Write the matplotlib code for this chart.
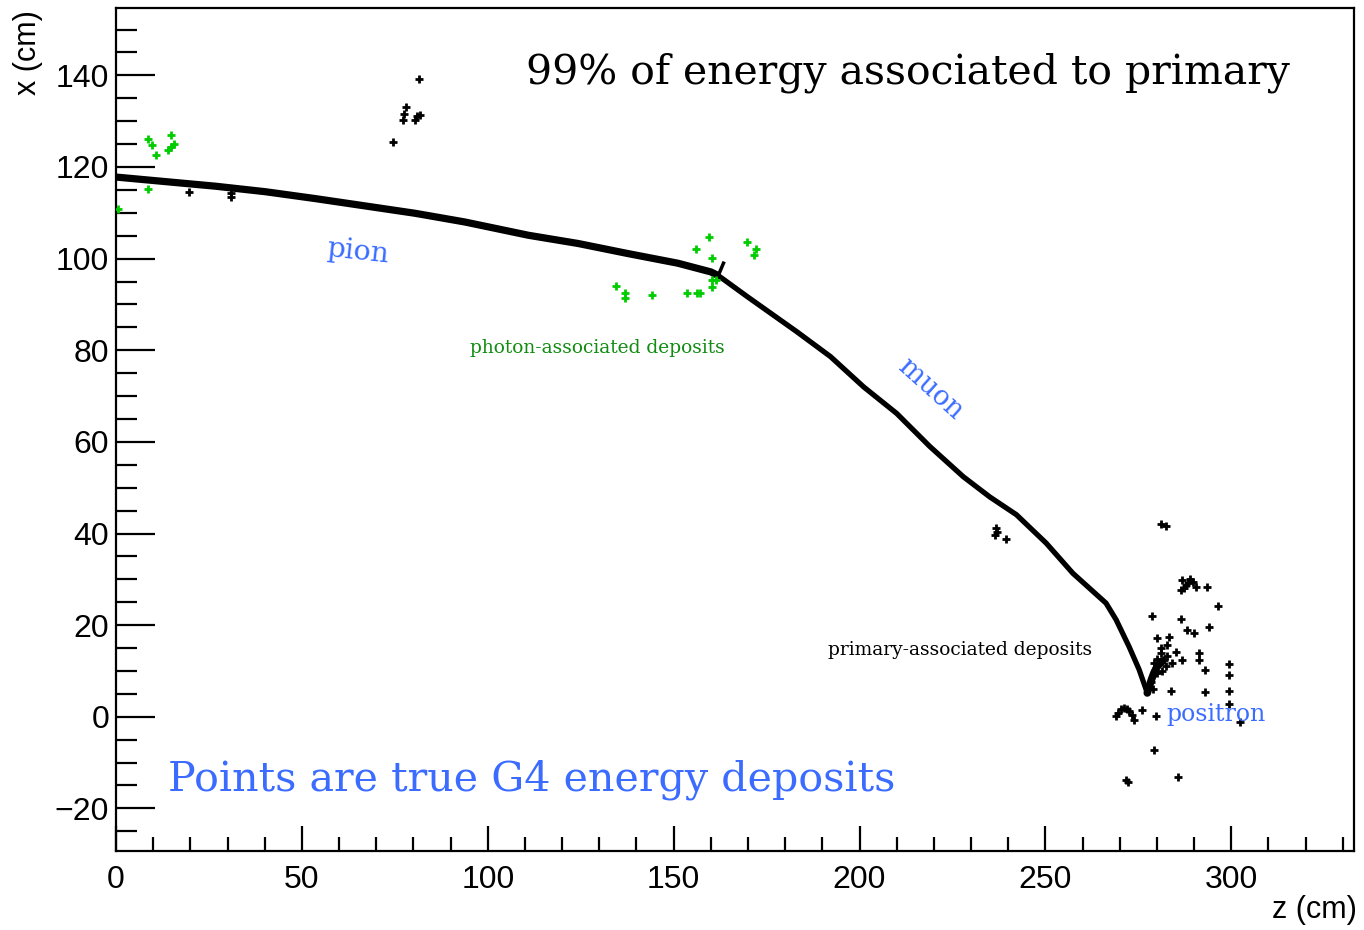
import matplotlib
matplotlib.use("Agg")
import matplotlib.pyplot as plt
from matplotlib.ticker import MultipleLocator

# primary track, pion part (z, x in cm)
pion_z = [0, 13.4, 26.8, 40.2, 53.6, 67.0, 80.4, 93.8, 110.9, 124.3, 137.7, 151.1, 160.0, 162.0]
pion_x = [117.8, 116.8, 115.8, 114.6, 113.1, 111.5, 109.9, 108.0, 105.1, 103.3, 101.1, 99.0, 97.1, 96.3]

# little stub at the decay vertex
stub_z = [162.0, 163.4]
stub_x = [96.3, 99.0]

# muon part
muon_z = [162.0, 169.8, 183.2, 192.2, 201.1, 210.0, 218.9, 227.9, 235.0, 242.2,
          250.2, 257.4, 266.3, 269.0, 272.5, 275.2, 277.4]
muon_x = [96.3, 91.7, 84.0, 78.6, 72.0, 66.2, 59.0, 52.4, 48.0, 44.1,
          37.9, 31.3, 24.8, 21.2, 15.3, 10.3, 5.2]

# start of the positron
posi_z = [277.4, 278.0, 278.6, 279.2, 279.8, 280.4, 281.0, 281.5]
posi_x = [5.2, 6.8, 8.3, 9.6, 10.6, 11.3, 11.8, 12.2]

# other deposits associated to the primary
prim_z = [81.6, 77.9, 77.4, 77.1, 81.0, 81.9, 80.4, 74.5,
          19.6, 30.8, 30.8,
          236.8, 236.4, 239.3, 236.9,
          281.2, 282.5,
          286.8, 289.0, 287.7, 286.4, 289.7, 288.3, 290.4, 293.5, 287.2,
          296.4, 278.6, 286.4, 293.9, 288.1, 289.9, 280.1, 283.2, 282.8, 281.0,
          281.0, 282.8, 284.1, 285.0, 286.8, 291.3, 291.3, 279.2, 280.1, 281.4,
          293.0, 299.5, 299.5, 283.9, 292.9, 299.5, 299.5, 302.4,
          269.0, 269.5, 270.3, 271.2, 272.0, 272.5, 273.2, 273.9,
          276.1, 279.8, 279.2, 271.6, 272.2, 285.6,
          280.0, 281.8, 282.5, 278.4, 279.0]
prim_x = [139.1, 133.1, 131.6, 130.2, 131.1, 131.4, 130.2, 125.5,
          114.6, 113.5, 114.3,
          41.2, 39.7, 38.8, 40.3,
          42.1, 41.6,
          29.9, 30.0, 28.8, 27.7, 29.5, 29.3, 28.4, 28.4, 28.2,
          24.1, 22.1, 21.3, 19.7, 19.0, 18.2, 17.1, 17.5, 15.7, 15.0,
          13.9, 13.2, 11.7, 14.2, 12.4, 13.9, 12.4, 11.7, 9.5, 9.9,
          10.1, 11.5, 9.2, 5.7, 5.3, 5.7, 2.8, -1.2,
          0.2, 0.9, 1.6, 1.9, 1.7, 1.2, 0.4, -0.7,
          1.4, 0.1, -7.3, -13.7, -14.2, -13.2,
          12.5, 12.3, 11.0, 7.5, 6.0]

# deposits associated to photons
phot_z = [8.5, 9.7, 10.7, 14.9, 14.0, 14.9, 15.6, 8.5, 0.6,
          159.6, 156.0, 160.2, 169.7, 172.1, 171.6, 134.6, 137.0, 137.0, 144.1,
          153.6, 156.4, 157.2, 160.2, 161.4, 160.2]
phot_x = [126.1, 124.9, 122.6, 126.9, 123.8, 124.4, 125.0, 115.3, 110.9,
          104.8, 102.2, 100.2, 103.7, 102.0, 100.8, 94.0, 92.4, 91.5, 92.0,
          92.5, 92.5, 92.5, 95.3, 95.3, 93.9]

BLUE = "#3b6cff"
SERIF = "DejaVu Serif"

plt.rcParams["font.family"] = ["Liberation Sans", "DejaVu Sans"]

fig = plt.figure(figsize=(13.64, 9.30), dpi=100)
ax = fig.add_axes([116 / 1364, 1 - 851 / 930, 1238 / 1364, 843 / 930])

ax.plot(pion_z, pion_x, color="black", lw=5.2, solid_capstyle="butt", zorder=2)
ax.plot(stub_z, stub_x, color="black", lw=2.5, zorder=2)
ax.plot(muon_z, muon_x, color="black", lw=3.8, solid_joinstyle="round", zorder=2)
ax.plot(posi_z, posi_x, color="black", lw=5.5, solid_capstyle="round", zorder=2)
ax.plot(prim_z, prim_x, ls="none", marker="+", ms=6, mew=2, color="black", zorder=3)
ax.plot(phot_z, phot_x, ls="none", marker="+", ms=6, mew=2, color="#00cc00", zorder=4)

ax.set_xlim(0, 333)
ax.set_ylim(-29.3, 154.7)

ax.xaxis.set_major_locator(MultipleLocator(50))
ax.xaxis.set_minor_locator(MultipleLocator(10))
ax.yaxis.set_major_locator(MultipleLocator(20))
ax.yaxis.set_minor_locator(MultipleLocator(5))
ax.tick_params(axis="both", which="both", direction="in", top=False, right=False,
               width=1.6, labelsize=23)
ax.tick_params(axis="x", which="major", length=18, pad=10)
ax.tick_params(axis="x", which="minor", length=10)
ax.tick_params(axis="y", which="major", length=28, pad=5)
ax.tick_params(axis="y", which="minor", length=15)
for sp in ax.spines.values():
    sp.set_linewidth(1.6)

ax.set_xlabel("z (cm)", fontsize=22, loc="right")
ax.xaxis.set_label_coords(1.002, -0.052)
ax.set_ylabel("x (cm)", fontsize=22, loc="top")
ax.yaxis.set_label_coords(-0.059, 0.998)

ax.text(0.948, 0.923, "99% of energy associated to primary", transform=ax.transAxes,
        ha="right", va="center", fontsize=29.5, family=SERIF)
ax.text(0.042, 0.084, "Points are true G4 energy deposits", transform=ax.transAxes,
        ha="left", va="center", fontsize=29.7, family=SERIF, color=BLUE)
ax.text(65, 101.5, "pion", ha="center", va="center", fontsize=20.5, family=SERIF,
        color=BLUE, rotation=-6)
ax.text(219, 71.5, "muon", ha="center", va="center", fontsize=19.5, family=SERIF,
        color=BLUE, rotation=-42)
ax.text(296, 0.4, "positron", ha="center", va="center", fontsize=17, family=SERIF,
        color=BLUE)
ax.text(129.5, 80.5, "photon-associated deposits", ha="center", va="center",
        fontsize=13.4, family=SERIF, color="#118c11")
ax.text(227, 14.5, "primary-associated deposits", ha="center", va="center",
        fontsize=13.4, family=SERIF, color="black")

fig.savefig("out.png", dpi=100)
